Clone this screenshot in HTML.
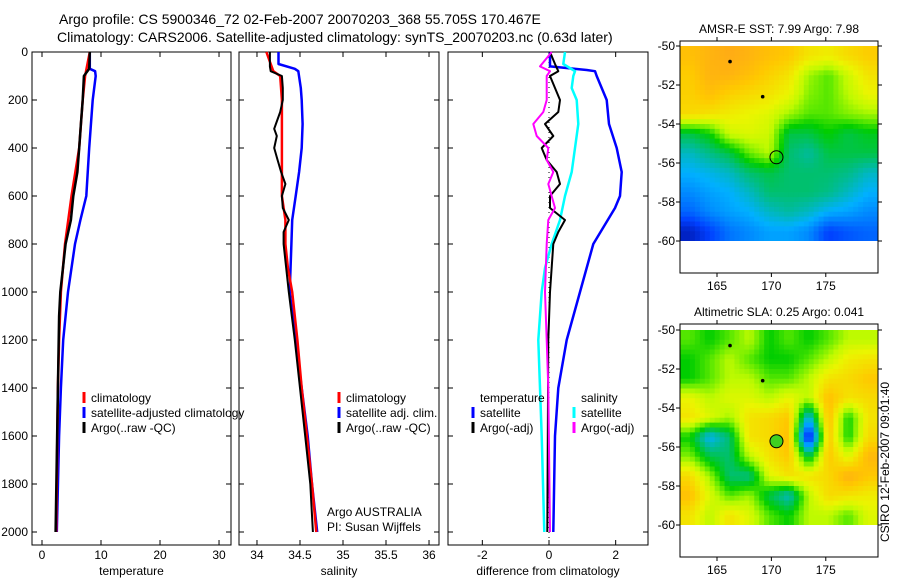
<!DOCTYPE html>
<html><head><meta charset="utf-8"><style>
body{margin:0;background:#fff;}
svg{display:block;font-family:"Liberation Sans",sans-serif;}
text{font-size:12px;fill:#000;}
</style></head><body>
<svg id="fig" width="900" height="580" viewBox="0 0 900 580">
<defs>
<clipPath id="clipTop"><rect x="680" y="46" width="198" height="195"/></clipPath>
<clipPath id="clipBot"><rect x="680" y="330" width="198" height="195"/></clipPath>
</defs>
<text x="59" y="24" style="font-size:14px">Argo profile: CS 5900346_72 02-Feb-2007 20070203_368 55.705S 170.467E</text>
<text x="57" y="42" style="font-size:14px">Climatology: CARS2006. Satellite-adjusted climatology: synTS_20070203.nc (0.63d later)</text>
<text transform="translate(889,462) rotate(-90)" text-anchor="middle" style="font-size:12px">CSIRO 12-Feb-2007 09:01:40</text>
</svg>
<script>
// ---- profile data ----
const depthsTempClim=[0,100,200,400,600,800,1000,1200,1400,2000];
const tempClim=[8.1,7.3,6.9,6.3,5.0,3.9,3.2,2.9,2.7,2.4];
const depthsTempArgo=[0,70,100,200,300,400,500,600,700,800,1000,1100,1400,2000];
const tempArgo=[8.1,8.0,7.1,6.9,6.6,6.3,6.0,5.3,4.9,4.0,3.1,2.9,2.7,2.3];
const depthsTempSat=[0,70,80,100,200,400,600,700,800,1000,1200,1400,1600,2000];
const tempSat=[8.1,8.1,9.0,9.1,8.6,8.0,7.5,6.5,5.6,4.4,3.6,3.2,2.9,2.5];
const depthsSalClim=[0,80,100,200,600,700,800,900,1000,1200,1400,1600,1800,2000];
const salClim=[34.11,34.19,34.27,34.29,34.29,34.33,34.33,34.36,34.41,34.47,34.52,34.58,34.64,34.69];
const depthsSalArgo=[0,60,80,100,150,200,250,300,320,350,400,450,500,550,600,650,700,750,800,900,1000,1200,1400,1600,1800,2000];
const salArgo=[34.15,34.15,34.16,34.29,34.30,34.30,34.27,34.22,34.20,34.23,34.20,34.24,34.28,34.33,34.29,34.30,34.37,34.31,34.31,34.34,34.37,34.44,34.50,34.56,34.62,34.65];
const depthsSalSat=[0,50,70,80,150,200,300,400,500,600,700,800,1000,1200,1400,1600,1800,2000];
const salSat=[34.25,34.25,34.44,34.48,34.51,34.52,34.53,34.52,34.49,34.45,34.41,34.40,34.38,34.45,34.52,34.59,34.64,34.70];
const depthsDTSat=[0,60,75,80,100,200,300,400,500,600,650,800,1000,1200,1400,1600,2000];
const diffTempSat=[0.03,0.03,1.13,1.38,1.43,1.73,1.8,2.03,2.18,2.13,1.98,1.33,0.93,0.53,0.28,0.18,0.13];
const depthsDTArgo=[0,50,80,100,150,200,250,300,350,400,450,500,550,600,650,700,750,800,1000,1200,2000];
const diffTempArgo=[0.03,0.18,0.28,0.03,0.18,0.33,0.28,-0.12,0.13,-0.22,-0.07,0.23,0.33,0.03,0.03,0.48,0.28,0.13,0.03,-0.02,-0.05];
const depthsDSArgo=[0,60,80,100,200,250,300,350,400,450,500,550,650,700,800,1000,1200,1400,2000];
const diffSalArgo=[0.08,-0.27,0.03,-0.07,-0.07,-0.17,-0.47,-0.37,-0.02,-0.07,0.13,-0.02,0.18,-0.02,-0.07,-0.12,-0.07,-0.02,0.03];
const depthsDSSat=[0,50,80,100,150,200,300,400,500,600,700,800,900,1000,1200,1400,1600,2000];
const diffSalSat=[0.48,0.43,0.78,0.73,0.68,0.83,0.88,0.78,0.68,0.48,0.33,0.08,-0.12,-0.22,-0.32,-0.27,-0.22,-0.14];
const depthTicks=[0,200,400,600,800,1000,1200,1400,1600,1800,2000];
const tempTicks=[0,10,20,30];
const salTicks=[34,34.5,35,35.5,36];
const salTickLabels=["34","34.5","35","35.5","36"];
const diffTicks=[-2,0,2];
// ---- map data (0..1 colour index), rows north->south ----
const sstGrid=[
[0.8,0.83,0.85,0.83,0.8,0.78,0.72,0.7,0.74,0.77],
[0.77,0.83,0.83,0.8,0.76,0.72,0.6,0.55,0.64,0.72],
[0.76,0.8,0.76,0.74,0.72,0.68,0.58,0.55,0.62,0.68],
[0.74,0.72,0.7,0.68,0.66,0.6,0.55,0.55,0.58,0.6],
[0.45,0.5,0.64,0.66,0.64,0.45,0.45,0.5,0.45,0.48],
[0.35,0.4,0.45,0.56,0.62,0.42,0.38,0.45,0.45,0.45],
[0.3,0.32,0.35,0.42,0.45,0.42,0.42,0.42,0.4,0.35],
[0.25,0.28,0.3,0.35,0.42,0.42,0.42,0.4,0.35,0.3],
[0.2,0.25,0.28,0.3,0.35,0.38,0.35,0.3,0.28,0.25],
[0.08,0.15,0.22,0.25,0.28,0.28,0.25,0.15,0.18,0.2]];
const slaGrid=[
[0.55,0.5,0.55,0.62,0.5,0.55,0.5,0.55,0.62,0.62],
[0.5,0.55,0.62,0.55,0.5,0.5,0.55,0.62,0.7,0.72],
[0.5,0.55,0.62,0.62,0.55,0.55,0.62,0.72,0.74,0.78],
[0.68,0.62,0.66,0.66,0.62,0.68,0.62,0.8,0.72,0.74],
[0.72,0.66,0.6,0.72,0.74,0.78,0.3,0.8,0.5,0.72],
[0.5,0.3,0.42,0.72,0.74,0.8,0.05,0.78,0.5,0.74],
[0.58,0.45,0.42,0.62,0.72,0.78,0.45,0.78,0.66,0.82],
[0.74,0.6,0.42,0.4,0.66,0.72,0.72,0.74,0.84,0.78],
[0.8,0.66,0.55,0.6,0.45,0.35,0.62,0.74,0.72,0.7],
[0.72,0.62,0.72,0.66,0.55,0.5,0.62,0.62,0.55,0.66]];
const latTicks=[-50,-52,-54,-56,-58,-60];
const lonTicks=[165,170,175];
const argoLon=170.467, argoLat=-55.705;
const otherFloats=[[166.2,-50.8],[169.2,-52.6]];

const NS="http://www.w3.org/2000/svg";
const svg=document.getElementById('fig');
function mk(tag,attrs,parent){const e=document.createElementNS(NS,tag);for(const k in attrs)e.setAttribute(k,attrs[k]);(parent||svg).appendChild(e);return e;}
const yTop=52,yScale=0.24,axBottom=545;
const yD=d=>yTop+d*yScale;
const panels=[
 {x0:32,x1:231,v0:-1.695,v1:32.03,ticks:tempTicks,labels:tempTicks.map(String),title:"temperature",name:"temperature-panel"},
 {x0:239,x1:439,v0:33.791,v1:36.116,ticks:salTicks,labels:salTickLabels,title:"salinity",name:"salinity-panel"},
 {x0:448,x1:648,v0:-3.03,v1:2.97,ticks:diffTicks,labels:["-2","0","2"],title:"difference from climatology",name:"difference-panel"}];
panels.forEach((p,i)=>{
 p.xf=v=>p.x0+(v-p.v0)/(p.v1-p.v0)*(p.x1-p.x0);
 const g=mk('g',{});
 
 
 const r=mk('rect',{x:p.x0,y:yTop,width:p.x1-p.x0,height:axBottom-yTop,fill:'none',stroke:'#000','stroke-width':1},g);
 
 
 depthTicks.forEach(d=>{
  mk('line',{x1:p.x0,x2:p.x0+5,y1:yD(d),y2:yD(d),stroke:'#000'},g);
  mk('line',{x1:p.x1,x2:p.x1-5,y1:yD(d),y2:yD(d),stroke:'#000'},g);
  if(i===0){const t=mk('text',{x:28,y:yD(d)+4,'text-anchor':'end'},g);t.textContent=d;
   
   }
 });
 p.ticks.forEach((v,k)=>{
  const x=p.xf(v);
  mk('line',{x1:x,x2:x,y1:yTop,y2:yTop+5,stroke:'#000'},g);
  mk('line',{x1:x,x2:x,y1:axBottom,y2:axBottom-5,stroke:'#000'},g);
  const t=mk('text',{x:x,y:559,'text-anchor':'middle'},g);t.textContent=p.labels[k];
  
  
 });
 const tt=mk('text',{x:(p.x0+p.x1)/2,y:575,'text-anchor':'middle'},g);tt.textContent=p.title;
 
 
});
function line(p,depths,vals,color,w,name,dash){
 const pts=depths.map((d,k)=>p.xf(vals[k]).toFixed(1)+','+yD(d).toFixed(1)).join(' ');
 const e=mk('polyline',{points:pts,fill:'none',stroke:color,'stroke-width':w,'stroke-linejoin':'round'});
 if(dash)e.setAttribute('stroke-dasharray',dash);
 
 
}
const P=panels;
const zl=mk('line',{x1:P[2].xf(0),x2:P[2].xf(0),y1:yTop,y2:axBottom,stroke:'#000','stroke-width':1,'stroke-dasharray':'1 4'});


line(P[0],depthsTempSat,tempSat,'#0000ff',2.5,'temp-satellite-line');
line(P[0],depthsTempClim,tempClim,'#ff0000',2.5,'temp-climatology-line');
line(P[0],depthsTempArgo,tempArgo,'#000',2.5,'temp-argo-line');
line(P[1],depthsSalSat,salSat,'#0000ff',2.5,'sal-satellite-line');
line(P[1],depthsSalClim,salClim,'#ff0000',2.5,'sal-climatology-line');
line(P[1],depthsSalArgo,salArgo,'#000',2,'sal-argo-line');
line(P[2],depthsDTSat,diffTempSat,'#0000ff',2.5,'diff-temp-satellite-line');
line(P[2],depthsDSSat,diffSalSat,'#00ffff',2.5,'diff-sal-satellite-line');
line(P[2],depthsDTArgo,diffTempArgo,'#000',2,'diff-temp-argo-line');
line(P[2],depthsDSArgo,diffSalArgo,'#ff00ff',2,'diff-sal-argo-line');
function legend(x,y,items){
 items.forEach((it,k)=>{
  const yy=y+k*15;
  if(it[1]){const m=mk('line',{x1:x,x2:x,y1:yy-10,y2:yy+1,stroke:it[1],'stroke-width':3});
   
   }
  const t=mk('text',{x:x+7,y:yy});t.textContent=it[0];
  
  
 });
}
legend(84,402,[['climatology','#ff0000'],['satellite-adjusted climatology','#0000ff'],['Argo(..raw -QC)','#000']]);
legend(339,402,[['climatology','#ff0000'],['satellite adj. clim.','#0000ff'],['Argo(..raw -QC)','#000']]);
legend(473,402,[['temperature',null],['satellite','#0000ff'],['Argo(-adj)','#000']]);
legend(574,402,[['salinity',null],['satellite','#00ffff'],['Argo(-adj)','#ff00ff']]);
const a1=mk('text',{x:327,y:516});a1.textContent='Argo AUSTRALIA';


const a2=mk('text',{x:327,y:531});a2.textContent='PI: Susan Wijffels';



// ---- maps ----
const cstops=[[0,[0,0,128]],[0.15,[0,64,255]],[0.3,[0,176,255]],[0.42,[0,192,110]],[0.5,[0,205,0]],[0.56,[100,235,0]],[0.62,[190,250,0]],[0.68,[235,245,0]],[0.78,[255,200,0]],[0.88,[255,160,30]],[1,[224,96,0]]];
function cmap(v){v=Math.max(0,Math.min(1,v));for(let i=1;i<cstops.length;i++){if(v<=cstops[i][0]){const a=cstops[i-1],b=cstops[i],t=(v-a[0])/(b[0]-a[0]);return 'rgb('+a[1].map((c,j)=>Math.round(c+(b[1][j]-c)*t)).join(',')+')';}}return 'rgb(224,96,0)';}
function sample(grid,fr,fc){
 const nr=grid.length,nc=grid[0].length;
 const r=Math.max(0,Math.min(nr-1,fr-0.5)),c=Math.max(0,Math.min(nc-1,fc-0.5));
 const r0=Math.floor(r),c0=Math.floor(c),r1=Math.min(nr-1,r0+1),c1=Math.min(nc-1,c0+1),tr=r-r0,tc=c-c0;
 return (grid[r0][c0]*(1-tc)+grid[r0][c1]*tc)*(1-tr)+(grid[r1][c0]*(1-tc)+grid[r1][c1]*tc)*tr;
}
function map(cfg){
 const {bx,by,bh,lat0y,title,grid,clip,name,filledCircle}=cfg;
 const lonf=l=>bx+(l-161.6)/(179.8-161.6)*198;
 const latf=l=>lat0y+(-50-l)*19.5;
 const g=mk('g',{});
 
 
 const hg=mk('g',{'clip-path':'url(#'+clip+')'},g);
 const nr=grid.length,nc=grid[0].length,S=4;
 const cw=198/(nc*S),ch=195/(nr*S);
 for(let r=0;r<nr*S;r++)for(let c=0;c<nc*S;c++){
  const v=sample(grid,(r+0.5)/S,(c+0.5)/S);
  const e=mk('rect',{x:(bx+c*cw).toFixed(2),y:(lat0y+r*ch).toFixed(2),width:(cw+0.6).toFixed(2),height:(ch+0.6).toFixed(2),fill:cmap(v)},hg);
  
  
 }
 const fr=mk('rect',{x:bx,y:by,width:198,height:bh,fill:'none',stroke:'#000'},g);
 
 
 latTicks.forEach(l=>{const y=latf(l);
  mk('line',{x1:bx,x2:bx-4,y1:y,y2:y,stroke:'#000'},g);
  mk('line',{x1:bx+198,x2:bx+202,y1:y,y2:y,stroke:'#000'},g);
  const t=mk('text',{x:bx-5,y:y+4,'text-anchor':'end'},g);t.textContent=l;
  
  });
 lonTicks.forEach(l=>{const x=lonf(l);
  mk('line',{x1:x,x2:x,y1:by,y2:by-4,stroke:'#000'},g);
  mk('line',{x1:x,x2:x,y1:by+bh,y2:by+bh+4,stroke:'#000'},g);
  const t=mk('text',{x:x,y:by+bh+17,'text-anchor':'middle'},g);t.textContent=l;
  
  });
 const tt=mk('text',{x:bx+99,y:by-8,'text-anchor':'middle'},g);tt.textContent=title;
 
 
 otherFloats.forEach(f=>{const d=mk('circle',{cx:lonf(f[0]),cy:latf(f[1]),r:1.8,fill:'#000'},g);
  
  });
 const c=mk('circle',{cx:lonf(argoLon),cy:latf(argoLat),r:6.5,fill:filledCircle?'#40d020':'none',stroke:'#000','stroke-width':1},g);
 
 
}
map({bx:680,by:41,bh:232,lat0y:46,title:'AMSR-E SST: 7.99 Argo: 7.98',grid:sstGrid,clip:'clipTop',name:'sst-map',filledCircle:false});
map({bx:680,by:324,bh:233,lat0y:330,title:'Altimetric SLA: 0.25 Argo: 0.041',grid:slaGrid,clip:'clipBot',name:'sla-map',filledCircle:true});
</script>
</body></html>
